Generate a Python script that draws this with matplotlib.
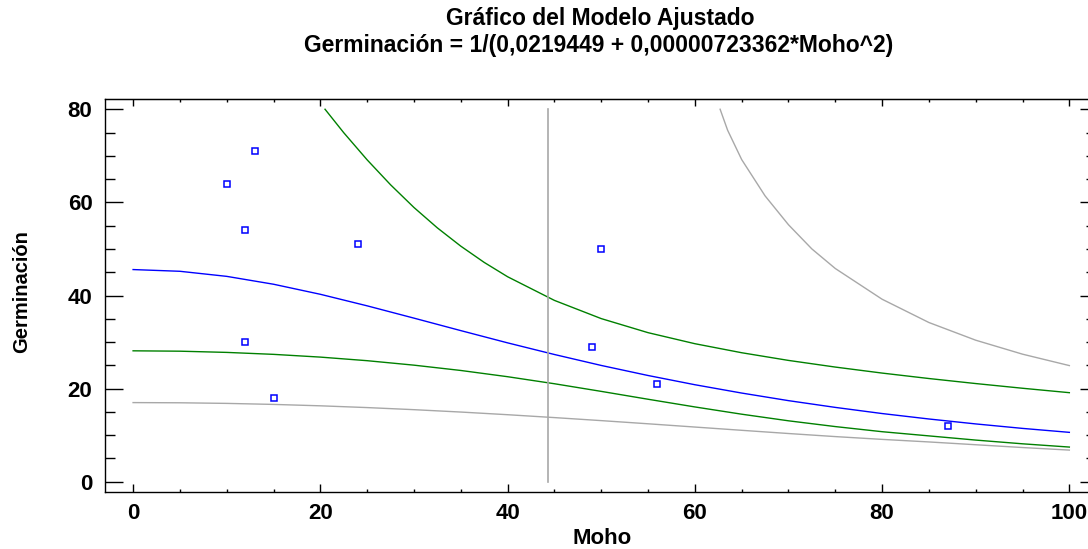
#!/usr/bin/env python3
"""
Fitted model plot: Germinacion vs Moho, reciprocal-quadratic fit with
confidence (green) and prediction (gray) limits.
Saves out.png (1088x549).
"""
import matplotlib
matplotlib.use("Agg")
import matplotlib.pyplot as plt
from matplotlib.ticker import MultipleLocator

plt.rcParams["font.family"] = ["Liberation Sans", "DejaVu Sans"]
plt.rcParams["font.weight"] = "bold"

# observed points
moho_obs = [10, 13, 12, 24, 12, 15, 50, 49, 56, 87]
germ_obs = [64, 71, 54, 51, 30, 18, 50, 29, 21, 12]

# fitted curve + lower limits, sampled every 5 units
x_grid = [0, 5, 10, 15, 20, 25, 30, 35, 40, 45, 50,
          55, 60, 65, 70, 75, 80, 85, 90, 95, 100]
fit_y = [45.57, 45.20, 44.11, 42.42, 40.26, 37.78, 35.14, 32.46, 29.83, 27.33, 24.98,
         22.82, 20.84, 19.05, 17.42, 15.97, 14.65, 13.48, 12.42, 11.46, 10.61]
conf_low = [28.12, 28.04, 27.78, 27.36, 26.77, 26.00, 25.04, 23.90, 22.56, 21.05, 19.41,
            17.72, 16.07, 14.51, 13.09, 11.85, 10.75, 9.85, 8.95, 8.15, 7.45]
pred_low = [17.00, 16.96, 16.83, 16.61, 16.31, 15.93, 15.48, 14.97, 14.40, 13.78, 13.13,
            12.45, 11.75, 11.05, 10.36, 9.70, 9.10, 8.55, 7.95, 7.35, 6.80]

# upper limits (only where they come below 80)
conf_up_x = [20.5, 22.5, 25, 27.5, 30, 32.5, 35, 37.5, 40, 45, 50,
             55, 60, 65, 70, 75, 80, 85, 90, 95, 100]
conf_up_y = [80.0, 74.96, 69.13, 63.78, 58.9, 54.52, 50.6, 47.11, 44.03, 38.95, 35.04,
             32.02, 29.65, 27.71, 26.06, 24.63, 23.34, 22.17, 21.09, 20.08, 19.13]
pred_up_x = [62.7, 63.5, 65, 67.5, 70, 72.5, 75, 80, 85, 90, 95, 100]
pred_up_y = [80.0, 75.5, 69.2, 61.4, 55.2, 50.0, 45.8, 39.2, 34.2, 30.4, 27.4, 24.95]

# vertical cursor line
cursor_x = 44.3
cursor_y = [0, 80]

title1 = "Gráfico del Modelo Ajustado"
title2 = "Germinación = 1/(0,0219449 + 0,00000723362*Moho^2)"

W, H = 1088, 549
fig = plt.figure(figsize=(W / 100, H / 100), dpi=100)
ax = fig.add_axes([105 / W, (H - 492) / H, (1089 - 105) / W, (492 - 99) / H])

ax.plot(x_grid, fit_y, color="#0000ff", lw=1.0)
ax.plot(x_grid, conf_low, color="#008000", lw=1.0)
ax.plot(conf_up_x, conf_up_y, color="#008000", lw=1.0)
ax.plot(x_grid, pred_low, color="#a8a8a8", lw=1.0)
ax.plot(pred_up_x, pred_up_y, color="#a8a8a8", lw=1.0)
ax.plot([cursor_x, cursor_x], cursor_y, color="#a8a8a8", lw=1.2)
ax.plot(moho_obs, germ_obs, ls="none", marker="s", ms=4.3, mfc="white",
        mec="#0000ff", mew=1.1)

ax.set_xlim(-3.0, 102.1)
ax.set_ylim(-2.2, 82.2)
ax.xaxis.set_major_locator(MultipleLocator(20))
ax.xaxis.set_minor_locator(MultipleLocator(5))
ax.yaxis.set_major_locator(MultipleLocator(20))
ax.yaxis.set_minor_locator(MultipleLocator(5))

for sp in ax.spines.values():
    sp.set_linewidth(1.0)

ax.tick_params(axis="x", which="major", direction="in", length=5.8, width=1.0,
               pad=8, labelsize=16, top=False)
ax.tick_params(axis="x", which="minor", direction="in", length=2.4, width=1.0, top=False)
ax.tick_params(axis="y", which="major", direction="in", length=13, width=1.0,
               pad=9, labelsize=16, right=False)
ax.tick_params(axis="y", which="minor", direction="in", length=7.2, width=1.0, right=False)
for lab in ax.get_xticklabels() + ax.get_yticklabels():
    lab.set_fontweight("bold")

# top / right ticks are shorter than left ones -> secondary axes
top = ax.secondary_xaxis("top")
top.xaxis.set_major_locator(MultipleLocator(20))
top.xaxis.set_minor_locator(MultipleLocator(5))
top.tick_params(which="major", direction="in", length=5.0, width=1.0, labeltop=False)
top.tick_params(which="minor", direction="in", length=2.4, width=1.0)
right = ax.secondary_yaxis("right")
right.yaxis.set_major_locator(MultipleLocator(20))
right.yaxis.set_minor_locator(MultipleLocator(5))
right.tick_params(which="major", direction="in", length=6.5, width=1.0, labelright=False)
right.tick_params(which="minor", direction="in", length=2.2, width=1.0)

fig.text(600 / W, 1 - 25 / H, title1, ha="center", va="baseline",
         fontsize=16.5, fontweight="bold")
fig.text(599 / W, 1 - 52 / H, title2, ha="center", va="baseline",
         fontsize=16.5, fontweight="bold")
fig.text(602 / W, 1 - 538 / H, "Moho", ha="center", va="center",
         fontsize=16, fontweight="bold")
fig.text(22 / W, 1 - 292 / H, "Germinación", ha="center", va="center",
         rotation=90, fontsize=14.5, fontweight="bold")

fig.savefig("out.png", dpi=100)
